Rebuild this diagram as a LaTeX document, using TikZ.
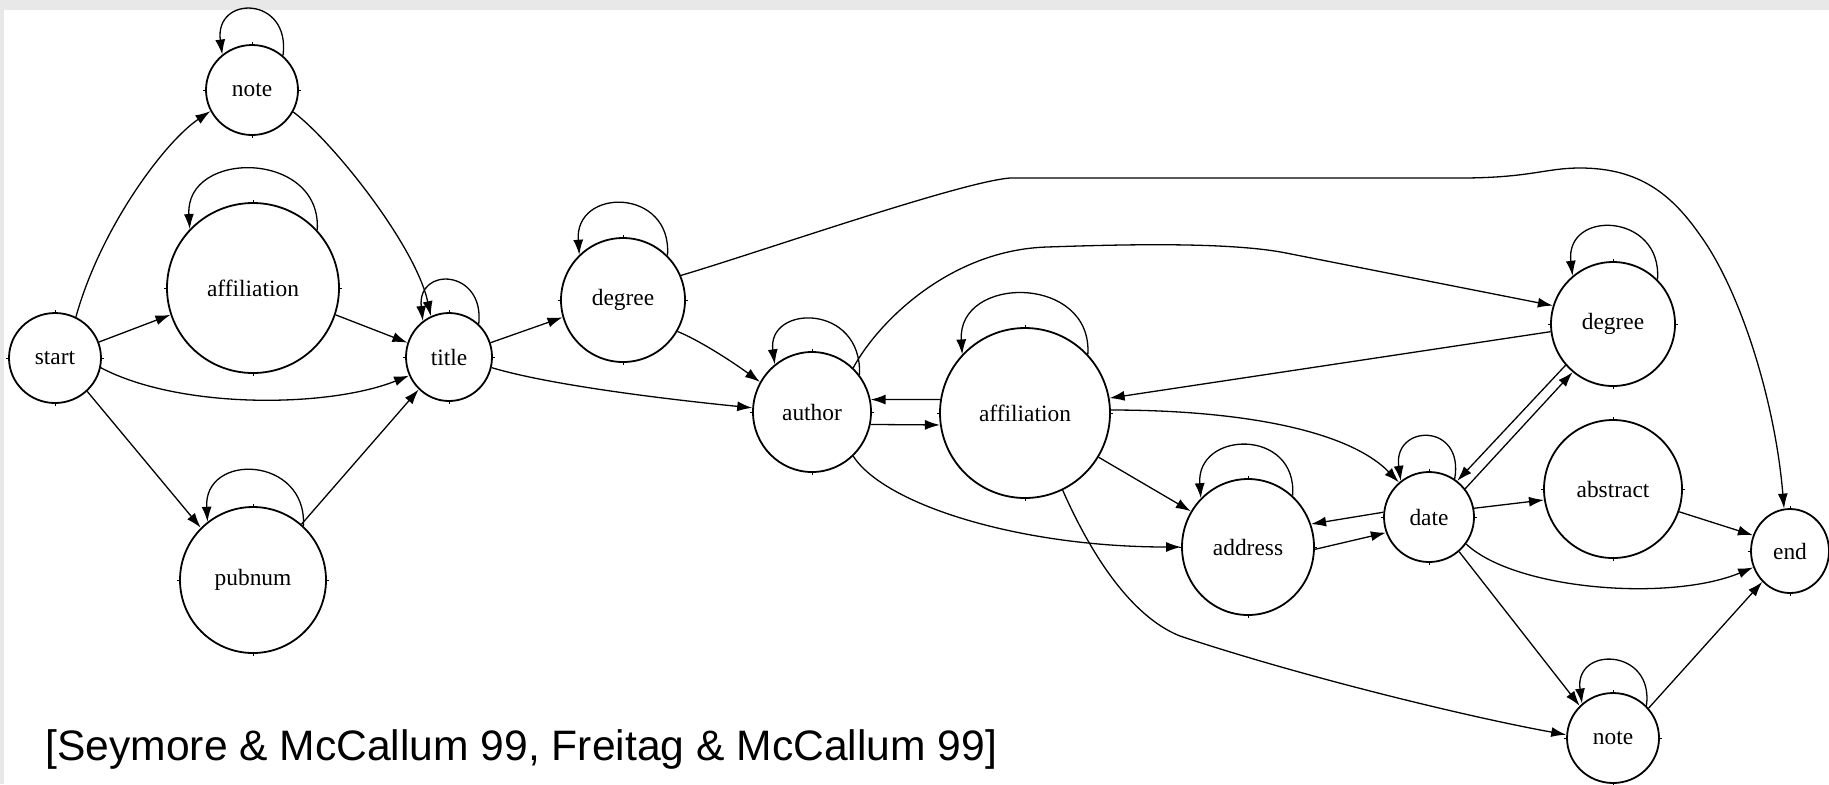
\documentclass[tikz,border=0pt]{standalone}
\usepackage{fontspec}
\setmainfont{Liberation Serif}[Ligatures=CommonOff]
\newfontfamily\capfont{Liberation Sans}
\usetikzlibrary{shapes.geometric,arrows.meta,calc}
\definecolor{bggray}{HTML}{E8E8E8}
\tikzset{
  st/.style={ellipse, draw, line width=0.9pt, inner sep=0pt, font=\fontsize{11.7}{12}\selectfont},
  sz/.style 2 args={minimum width=#1pt, minimum height=#2pt},
  ed/.style={line width=0.65pt, -{Latex[length=7.5pt,width=5pt]}},
  tick/.style={line width=0.5pt},
}
\begin{document}
\begin{tikzpicture}[x=0.5pt,y=-0.5pt]
\fill[bggray] (0,0) rectangle (1829,784);
\fill[white] (4,10) rectangle (1829,784);
\useasboundingbox (0,0) rectangle (1829,784);

\node[st, sz={46}{45}] (S) at (55,358) {start};
\node[st, sz={46}{45}] (N1) at (252,90) {note};
\node[st, sz={86}{85}] (A1) at (253,288) {affiliation};
\node[st, sz={43}{44}] (T) at (449,357) {title};
\node[st, sz={73}{73}] (P) at (253,580) {pubnum};
\node[st, sz={62}{62}] (D1) at (623,300) {degree};
\node[st, sz={59}{60}] (AU) at (812,412) {author};
\node[st, sz={85}{85}] (A2) at (1025,413) {affiliation};
\node[st, sz={62}{62}] (D2) at (1613,324) {degree};
\node[st, sz={69}{69}] (AB) at (1613,489) {abstract};
\node[st, sz={45}{45}] (DA) at (1429,517) {date};
\node[st, sz={66}{68}] (AD) at (1248,547) {address};
\node[st, sz={39}{42}] (E) at (1790,551) {end};
\node[st, sz={46}{45}] (N2) at (1613,738) {note};

% small tick marks on the state circles
\foreach \n in {S,N1,A1,T,P,D1,AU,A2,D2,AB,DA,AD,E,N2}
  \foreach \a in {0,90,180,270}
    \draw[tick] (\n.\a) -- ($(\n.\a)!-1.2pt!(\n.center)$);

% left part
\draw[ed] (S.63) .. controls +(25,-90) and +(-45,30) .. (N1.207);
\draw[ed] (N1.48) .. controls +(8,-60) and +(-8,-60) .. (N1.130);
\draw[ed] (N1.-28) .. controls +(40,30) and +(-15,-70) .. (T.114);
\draw[ed] (A1.42) .. controls +(5,-80) and +(-5,-80) .. (A1.137);
\draw[ed] (S.20) -- (A1.198);
\draw[ed] (A1.-18) -- (T.161);
\draw[ed] (S.-12) .. controls +(80,42) and +(-80,32) .. (T.205);
\draw[ed] (T.48) .. controls +(6,-55) and +(-6,-55) .. (T.126);
\draw[ed] (S.-46) -- (P.135);
\draw[ed] (P.47) .. controls +(4,-70) and +(-4,-70) .. (P.128);
\draw[ed] (P.49) -- (T.227);

% middle
\draw[ed] (T.19) -- (D1.196);
\draw[ed] (T.-14) .. controls +(60,18) and +(-80,-8) .. (AU.176);
\draw[ed] (D1.45) .. controls +(5,-68) and +(-5,-68) .. (D1.134);
\draw[ed] (D1.-30) .. controls +(20,8) and +(-30,-22) .. (AU.150);
\draw[ed] (D1.23) .. controls (760,252) and (960,182) .. (1010,178) -- (1460,178)
   .. controls (1530,178) and (1545,168) .. (1580,168)
   .. controls (1640,168) and (1672,195) .. (1700,235)
   .. controls (1740,290) and (1775,400) .. (E.98);
\draw[ed] (AU.38) .. controls +(3,-72) and +(-8,-60) .. (AU.128);
\draw[ed] (AU.47) .. controls (878,322) and (950,250) .. (1047,247)
   .. controls (1107,245) and (1226,241) .. (1286,253) -- (D2.163);
\draw[ed] (AU.-12) -- (A2.188);
\draw[ed] (A2.171) -- (AU.12);
\draw[ed] (A2.43) .. controls +(5,-80) and +(-5,-80) .. (A2.137);
\draw[ed] (AU.-47) .. controls (885,505) and (1020,547) .. (AD.180);

% right part
\draw[ed] (D2.45) .. controls +(5,-67) and +(-8,-67) .. (D2.130);
\draw[ed] (D2.187) -- (A2.10);
\draw[ed] (A2.2) .. controls (1240,410) and (1348,430) .. (DA.131);
\draw[ed] (DA.56) .. controls +(10,-57) and +(-8,-57) .. (DA.128);
\draw[ed] (D2.221) -- (DA.52);
\draw[ed] (DA.38) -- (D2.230);
\draw[ed] (A2.-31) -- (AD.148);
\draw[ed] (AD.49) .. controls +(5,-68) and +(-5,-68) .. (AD.134);
\draw[ed] (DA.174) -- (AD.20);
\draw[ed] (AD.-2) -- (DA.200);
\draw[ed] (DA.11) -- (AB.189);
\draw[ed] (AB.-19) -- (E.157);
\draw[ed] (DA.-36) .. controls (1515,590) and (1670,602) .. (E.204);
\draw[ed] (DA.-49) -- (N2.136);
\draw[ed] (N2.44) .. controls +(8,-58) and +(-8,-58) .. (N2.132);
\draw[ed] (N2.40) -- (E.228);
\draw[ed] (A2.-64) .. controls (1079,527) and (1120,612) .. (1180,636)
   .. controls (1300,676) and (1468,717) .. (N2.176);

\node[anchor=base west, inner sep=0pt, font=\capfont\fontsize{21.3}{24}\selectfont] (cap) at (45,760) {[Seymore \& McCallum 99, Freitag \& McCallum 99]};
\end{tikzpicture}
\end{document}
